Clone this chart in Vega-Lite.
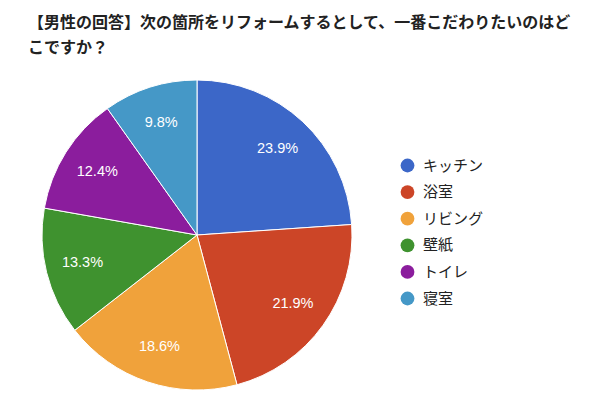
{
  "$schema": "https://vega.github.io/schema/vega-lite/v6.json",
  "autosize": {"type": "none"},
  "width": 310,
  "height": 310,
  "padding": {"left": 42, "top": 80, "right": 248, "bottom": 11},
  "background": "white",
  "title": {
    "text": ["【男性の回答】次の箇所をリフォームするとして、一番こだわりたいのはど", "こですか？"],
    "anchor": "start",
    "frame": "group",
    "dx": -14,
    "offset": 22,
    "font": "Noto Sans CJK JP",
    "fontSize": 16,
    "fontWeight": "bold",
    "color": "#222222",
    "lineHeight": 25
  },
  "data": {
    "values": [
      {"item": "キッチン", "share": 0.239, "order": 1},
      {"item": "浴室", "share": 0.219, "order": 2},
      {"item": "リビング", "share": 0.186, "order": 3},
      {"item": "壁紙", "share": 0.133, "order": 4},
      {"item": "トイレ", "share": 0.124, "order": 5},
      {"item": "寝室", "share": 0.098, "order": 6}
    ]
  },
  "encoding": {
    "theta": {"field": "share", "type": "quantitative", "stack": true},
    "order": {"field": "order", "type": "quantitative"},
    "color": {
      "field": "item",
      "type": "nominal",
      "sort": ["キッチン", "浴室", "リビング", "壁紙", "トイレ", "寝室"],
      "scale": {
        "domain": ["キッチン", "浴室", "リビング", "壁紙", "トイレ", "寝室"],
        "range": ["#3c67c8", "#cc4527", "#f0a23b", "#3f922f", "#8b1d9d", "#4598c7"]
      },
      "legend": {
        "title": null,
        "orient": "none",
        "legendX": 358,
        "legendY": 78,
        "symbolType": "circle",
        "symbolSize": 190,
        "symbolStrokeWidth": 0,
        "symbolOpacity": 1,
        "rowPadding": 10.6,
        "labelFont": "Noto Sans CJK JP",
        "labelFontSize": 15,
        "labelColor": "#222222",
        "labelOffset": 8
      }
    }
  },
  "layer": [
    {
      "mark": {"type": "arc", "outerRadius": 155, "stroke": "white", "strokeWidth": 1}
    },
    {
      "mark": {"type": "text", "radius": 118, "font": "Liberation Sans", "fontSize": 14.5, "fill": "white"},
      "encoding": {
        "text": {"field": "share", "type": "quantitative", "format": ".1%"},
        "color": {"value": "white"}
      }
    }
  ]
}
